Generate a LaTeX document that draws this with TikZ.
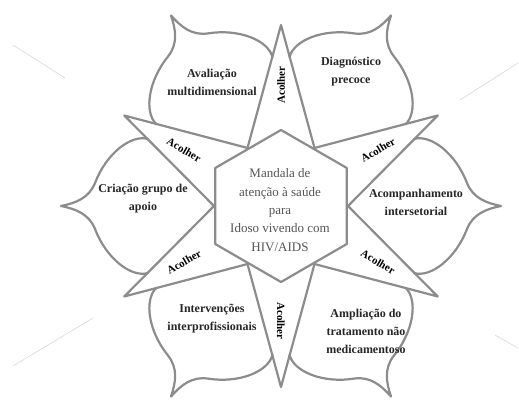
\documentclass[tikz,border=0pt]{standalone}
\usepackage{fontspec}
\setmainfont{Liberation Serif}
\definecolor{linegray}{RGB}{140,140,140}
\definecolor{faintgray}{RGB}{215,215,215}
\definecolor{hextext}{RGB}{85,85,85}

\begin{document}
\begin{tikzpicture}[x=1pt,y=1pt,
  outline/.style={draw=linegray, line width=2.2pt, line join=round, line cap=round},
  faint/.style={draw=faintgray, line width=0.6pt},
  petaltext/.style={align=center, font=\fontsize{12}{18}\selectfont\bfseries, text=black!85},
  acolher/.style={font=\fontsize{11}{13}\selectfont\bfseries, inner sep=0pt},
  hexlabel/.style={align=center, font=\fontsize{13}{18.3}\selectfont, text=hextext}]
\useasboundingbox (-281,-193) rectangle (238,206);
\foreach \i in {1,...,6}{
  \coordinate (tip\i) at ({60*\i-30}:181);
  \coordinate (in\i) at ({60*\i-60}:67);
  \coordinate (hex\i) at ({60*\i-30}:76);
}
\foreach \a in {0,60,...,300}{
  \draw[outline, rotate=\a] (133,67) .. controls (150,72) and (175,52) .. (186,23)
    .. controls (192,8) and (205,3) .. (220,0)
    .. controls (205,-3) and (192,-8) .. (186,-23)
    .. controls (175,-52) and (150,-72) .. (133,-67);
}
\draw[outline] (in1) -- (tip1) -- (in2) -- (tip2) -- (in3) -- (tip3) -- (in4)
  -- (tip4) -- (in5) -- (tip5) -- (in6) -- (tip6) -- cycle;
\draw[outline] (hex1) -- (hex2) -- (hex3) -- (hex4) -- (hex5) -- (hex6) -- cycle;
\draw[faint] (-268,161) -- (-216,128);
\draw[faint] (237,143) -- (179,106);
\draw[faint] (-268,-160) -- (-188,-112);
\draw[faint] (214,-129) -- (237,-142);
\node[acolher, rotate=90] (ac2) at (90:121) {Acolher};
\node[acolher, rotate=-90] (ac5) at (270:115) {Acolher};
\node[acolher, rotate=30] (ac1) at (30:112) {Acolher};
\node[acolher, rotate=-30] (ac3) at (150:112) {Acolher};
\node[acolher, rotate=30] (ac4) at (210:112) {Acolher};
\node[acolher, rotate=-30] (ac6) at (330:112) {Acolher};
\node[petaltext] (aval) at (-69,124) {Avaliação\\multidimensional};
\node[petaltext] (diag) at (70,134) {Diagnóstico\\precoce};
\node[petaltext] (cria) at (-138,7) {Criação grupo de\\apoio};
\node[petaltext] (acomp) at (135,4) {Acompanhamento\\intersetorial};
\node[petaltext] (interv) at (-69,-113) {Intervenções\\interprofissionais};
\node[petaltext] (ampl) at (85,-125) {Ampliação do\\tratamento não\\medicamentoso};
\node[hexlabel] (mandala) at (-1,-4) {Mandala de\\atenção à saúde\\para\\Idoso vivendo com\\HIV/AIDS};
\end{tikzpicture}
\end{document}
